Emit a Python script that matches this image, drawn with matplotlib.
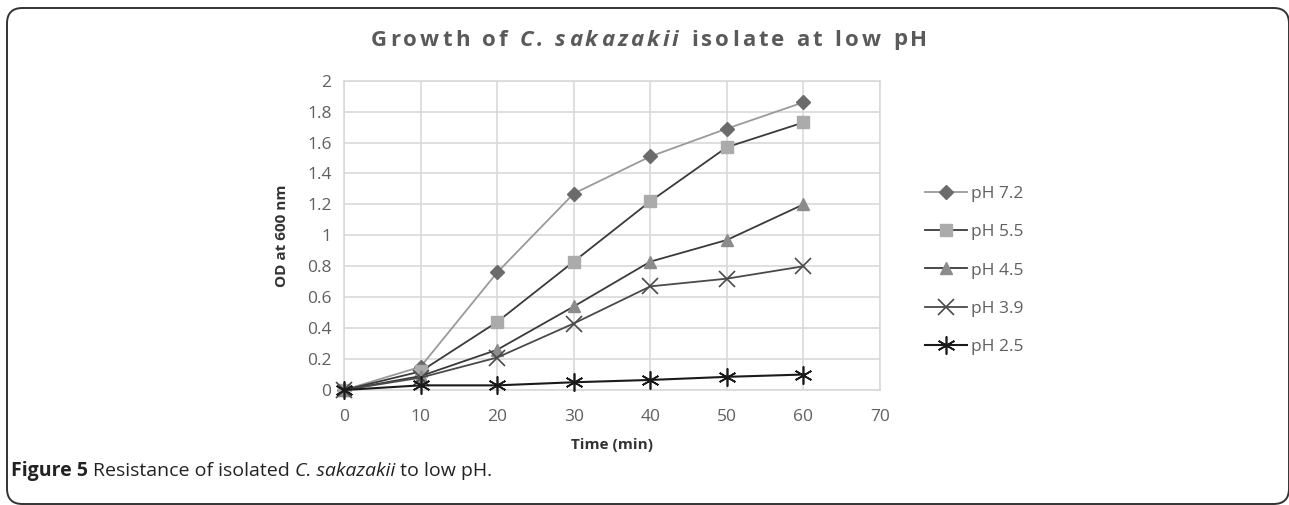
import matplotlib
matplotlib.use("Agg")
import matplotlib.pyplot as plt
from matplotlib.patches import FancyBboxPatch

# data
time_min = [0, 10, 20, 30, 40, 50, 60]
ph72 = [0, 0.15, 0.76, 1.27, 1.51, 1.69, 1.86]
ph55 = [0, 0.12, 0.44, 0.83, 1.22, 1.57, 1.73]
ph45 = [0, 0.09, 0.26, 0.54, 0.83, 0.97, 1.20]
ph39 = [0, 0.08, 0.21, 0.43, 0.67, 0.72, 0.80]
ph25 = [0, 0.03, 0.03, 0.05, 0.065, 0.085, 0.10]
labels = ["pH 7.2", "pH 5.5", "pH 4.5", "pH 3.9", "pH 2.5"]

FONT = "Open Sans"
plt.rcParams['font.family'] = [FONT, 'DejaVu Sans']

W, H = 1289, 505
fig = plt.figure(figsize=(W / 100, H / 100), dpi=100)
fig.patch.set_facecolor("white")

# axes placed in pixel terms
left, right, top, bottom = 344, 880, 80.7, 390
ax = fig.add_axes([left / W, (H - bottom) / H, (right - left) / W, (bottom - top) / H])

styles = [
    dict(color="#9a9a9a", marker="D", ms=7, mfc="#6b6b6b", mec="#6b6b6b", lw=1.3),
    dict(color="#3a3a3a", marker="s", ms=8, mfc="#ababab", mec="#ababab", lw=1.3),
    dict(color="#3a3a3a", marker="^", ms=9, mfc="#8c8c8c", mec="#8c8c8c", lw=1.3),
    dict(color="#4a4a4a", marker="x", ms=11, mfc="none", mec="#4a4a4a", mew=1.2, lw=1.3),
    dict(color="#1a1a1a", marker=(6, 2, 0), ms=13, mec="#1a1a1a", mew=1.2, lw=1.5),
]
series = [ph72, ph55, ph45, ph39, ph25]
for vals, lab, st in zip(series, labels, styles):
    ax.plot(time_min, vals, label=lab, clip_on=False, zorder=3, **st)

ax.set_xlim(0, 70)
ax.set_ylim(0, 2)
ax.set_xticks(range(0, 71, 10))
ax.set_yticks([0, 0.2, 0.4, 0.6, 0.8, 1, 1.2, 1.4, 1.6, 1.8, 2])
ax.set_yticklabels(["0", "0.2", "0.4", "0.6", "0.8", "1", "1.2", "1.4", "1.6", "1.8", "2"])
ax.grid(True, color="#d9d9d9", lw=1.2)
ax.set_axisbelow(True)
for sp in ax.spines.values():
    sp.set_color("#d9d9d9")
    sp.set_linewidth(1.2)
ax.tick_params(length=0, labelsize=12.5, labelcolor="#606060", pad=9)
ax.tick_params(axis="x", pad=14)

ax.set_ylabel("OD at 600 nm", fontsize=11, fontweight="bold", color="#333333", labelpad=13)
ax.set_xlabel("Time (min)", fontsize=11, fontweight="bold", color="#333333", labelpad=9)

leg = ax.legend(loc="upper left", bbox_to_anchor=(925 / W, (H - 186) / H),
                bbox_transform=fig.transFigure, frameon=False, fontsize=12.5,
                handlelength=2.4, handletextpad=0.25, labelspacing=1.27,
                borderaxespad=0, borderpad=0)
for t in leg.get_texts():
    t.set_color("#606060")


def place_run(fig, x0, cy, parts, size, spacing, color, center=False):
    """draw text pieces one char after another (extra letter spacing possible)"""
    r = fig.canvas.get_renderer()
    items = []
    for txt, weight, style in parts:
        chunks = list(txt) if spacing else [txt]
        for ch in chunks:
            t = fig.text(0, 0, ch, fontsize=size, fontweight=weight, style=style,
                         color=color, va="center", ha="left")
            w = t.get_window_extent(r).width if ch != " " else size * 0.38
            items.append((t, w))
    total = sum(w for _, w in items) + spacing * (len(items) - 1)
    x = x0 - total / 2 if center else x0
    for t, w in items:
        t.set_position((x / W, (H - cy) / H))
        x += w + spacing


place_run(fig, 649, 40, [("Growth of ", "bold", "normal"),
                         ("C. sakazakii", "bold", "italic"),
                         (" isolate at low pH", "bold", "normal")],
          16, 3.1, "#5a5a5a", center=True)

# caption
place_run(fig, 11, 471, [("Figure 5 ", "bold", "normal"),
                         ("Resistance of isolated ", "normal", "normal"),
                         ("C. sakazakii", "normal", "italic"),
                         (" to low pH.", "normal", "normal")],
          14, 0, "#222222")

# rounded frame around the figure
frame = FancyBboxPatch((7 / W, 1 / H), (1289 - 7) / W, (497 - 1) / H,
                       boxstyle="round,pad=0,rounding_size=0.012",
                       transform=fig.transFigure, fill=False,
                       ec="#333333", lw=1.4, mutation_aspect=W / H)
fig.add_artist(frame)

fig.savefig("out.png", dpi=100)
